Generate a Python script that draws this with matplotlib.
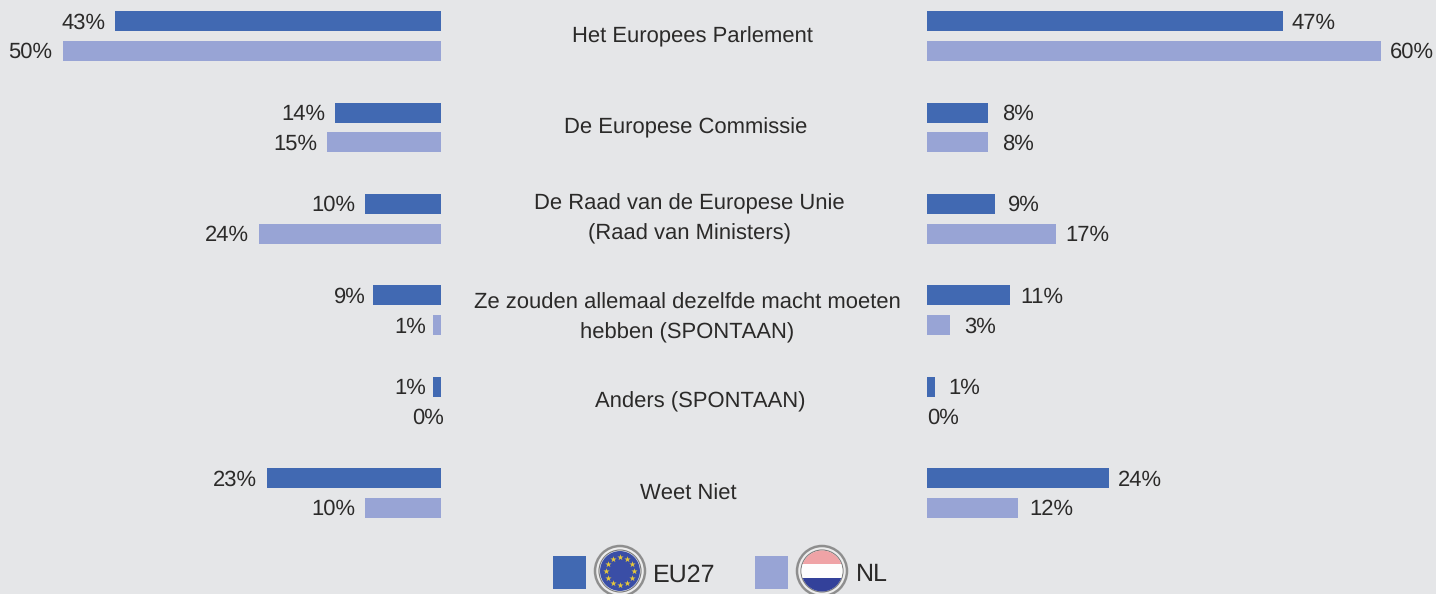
import matplotlib
matplotlib.use("Agg")
import matplotlib.pyplot as plt
from matplotlib.patches import Rectangle, Circle
import numpy as np

plt.rcParams["text.hinting"] = "no_hinting"
plt.rcParams["text.hinting_factor"] = 1

categories = ["Het Europees Parlement", "De Europese Commissie",
              "De Raad van de Europese Unie\n(Raad van Ministers)",
              "Ze zouden allemaal dezelfde macht moeten\nhebben (SPONTAAN)",
              "Anders (SPONTAAN)", "Weet Niet"]
left_eu27 = [43, 14, 10, 9, 1, 23]
left_nl = [50, 15, 24, 1, 0, 10]
right_eu27 = [47, 8, 9, 11, 1, 24]
right_nl = [60, 8, 17, 3, 0, 12]

BG, C_EU, C_NL, TXT = "#E5E6E8", "#4169B2", "#98A4D5", "#2B2A29"
W, H = 1436, 594
FONT = "Liberation Sans"
FS = 15.7
PX = 7.57          # pixels per percentage point
ROW0, ROWSTEP = 36.0, 91.4
OFF = 14.9 / ROWSTEP
BH = 20 / ROWSTEP
LABEL_SHIFT = 1.6 / ROWSTEP

fig = plt.figure(figsize=(W / 100, H / 100), dpi=100, facecolor=BG)

def panel(x0, x1):
    ax = fig.add_axes([x0 / W, 0, (x1 - x0) / W, 1])
    ax.set_facecolor("none")
    ax.axis("off")
    ax.set_ylim((H - ROW0) / ROWSTEP, -ROW0 / ROWSTEP)
    return ax

axL = panel(0, 441)
axL.set_xlim(441 / PX, 0)
axR = panel(927, W)
axR.set_xlim(0, (W - 927) / PX)

y = np.arange(len(categories))
gaps_L = [[10, 10, 10, 7, 7, 10], [10, 10, 10, 7, -3, 10]]
gaps_R = [[9, 14, 13, 10, 14, 9], [9, 14, 10, 14, 0, 11]]

for ax, eu, nl, gaps, ha, sign in [(axL, left_eu27, left_nl, gaps_L, "right", -1),
                                   (axR, right_eu27, right_nl, gaps_R, "left", 1)]:
    for vals, col, dy, g in [(eu, C_EU, -OFF, gaps[0]), (nl, C_NL, OFF, gaps[1])]:
        yy = y + dy
        ax.barh(yy, vals, height=BH, color=col, linewidth=0)
        for yi, v, gi in zip(yy, vals, g):
            ax.annotate(f"{v}%", (v, yi + LABEL_SHIFT), xytext=(sign * gi * 0.72, 0),
                        textcoords="offset points", ha=ha, va="center",
                        fontsize=FS, family=FONT, color=TXT, clip_on=False)

# overlay in pixel coordinates for centre labels and legend
ov = fig.add_axes([0, 0, 1, 1])
ov.set_xlim(0, W)
ov.set_ylim(H, 0)
ov.axis("off")
ov.set_facecolor("none")

label_x = [692, 686, 689, 687, 700, 688]
label_y = [37, 128, 219, 318, 402, 494]
for c, lx, ly in zip(categories, label_x, label_y):
    ov.text(lx, ly, c, ha="center", va="center", fontsize=FS, family=FONT,
            color=TXT, linespacing=1.58)

# legend
def badge(cx, cy, r=25):
    ov.add_patch(Circle((cx, cy), r, fc="#EDEDED", ec="#8E8E8E", lw=1.8, zorder=3))
    ov.add_patch(Circle((cx, cy), r - 4, fc="#FFFFFF", ec="#7A7A7A", lw=0.8, zorder=3))

ov.add_patch(Rectangle((553, 556), 33, 33, fc=C_EU, ec="none"))
badge(620, 571)
ov.add_patch(Circle((620, 571), 20, fc="#3A4EA6", ec="none", zorder=4))
ang = np.deg2rad(np.arange(0, 360, 30))
ov.scatter(620 + 14 * np.cos(ang), 571 + 14 * np.sin(ang), marker="*", s=22,
           color="#E8C93A", linewidths=0, zorder=5)
ov.text(653, 575, "EU27", ha="left", va="center", fontsize=18, family=FONT, color=TXT)

ov.add_patch(Rectangle((755, 556), 33, 33, fc=C_NL, ec="none"))
badge(822, 571)
clip = Circle((822, 571), 20.5, transform=ov.transData)
for yb, hb, col in [(550, 14, "#EFA3A6"), (564, 14, "#FDFDFD"), (578, 14, "#33419A")]:
    ov.add_patch(Rectangle((801, yb), 42, hb, fc=col, ec="none", zorder=4, clip_path=clip))
ov.text(856, 575, "NL", ha="left", va="center", fontsize=18, family=FONT, color=TXT)

fig.savefig("out.png", dpi=100, facecolor=BG)
